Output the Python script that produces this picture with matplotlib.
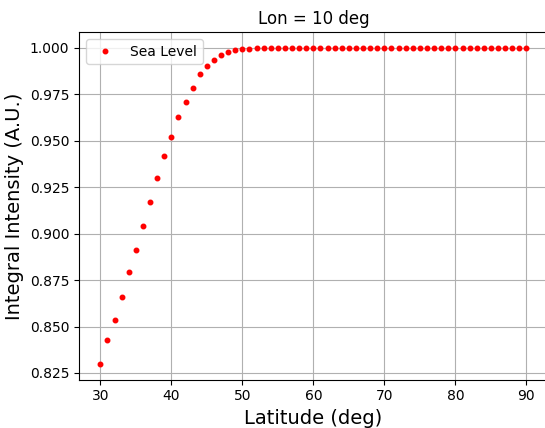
import numpy as np
import matplotlib
matplotlib.use('Agg')
import matplotlib.pyplot as plt

# latitude grid (deg) and integral intensity
latitude = list(range(30, 91))
intensity_rise = [0.8299, 0.8425, 0.8536, 0.8659, 0.8795, 0.8910, 0.9042, 0.9172,
                  0.9300, 0.9420, 0.9520, 0.9630, 0.9710, 0.9786, 0.9857, 0.9900,
                  0.9937, 0.9964, 0.9980, 0.9988, 0.9992, 0.9995, 0.9997, 0.9998,
                  0.9999]
intensity_flat = [1.0] * (len(latitude) - len(intensity_rise))
intensity = intensity_rise + intensity_flat

fig = plt.figure(figsize=(5.45, 4.28), dpi=100)
ax = fig.add_axes([0.145, 0.113, 0.860, 0.812])

ax.plot(latitude, intensity, 'r.', ms=6.5, label='Sea Level')
ax.set_title('Lon = 10 deg')
ax.set_xlabel('Latitude (deg)', fontsize=14)
ax.set_ylabel('Integral Intensity (A.U.)', fontsize=14)
ax.grid(True)
ax.legend(loc='upper left')

fig.savefig('out.png', dpi=100)
